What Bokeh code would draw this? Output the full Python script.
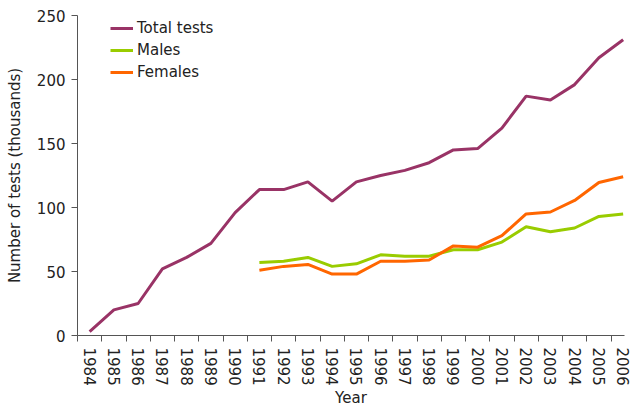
from bokeh.plotting import figure
from bokeh.models import Range1d, FixedTicker, Legend, LegendItem
from bokeh.embed import file_html
from bokeh.resources import INLINE

years_total = list(range(1984, 2007))
total_tests = [3, 20, 25, 52, 61, 72, 96, 114, 114, 120, 105, 120, 125, 129, 135,
               145, 146, 162, 187, 184, 196, 217, 231]
years_sex = list(range(1991, 2007))
males = [57, 58, 61, 54, 56, 63, 62, 62, 67, 67, 73, 85, 81, 84, 93, 95]
females = [51, 54, 55.5, 48, 48, 58, 58, 59, 70, 69, 78, 95, 96.5, 105.5, 119.5, 124]
y_ticks = [0, 50, 100, 150, 200, 250]

FONT = "DejaVu Sans"
TXT = "#222222"
AX = "#555555"

p = figure(frame_width=547, frame_height=320, output_backend="svg", toolbar_location=None,
           x_range=Range1d(1983.5, 2006.056), y_range=Range1d(0, 250),
           min_border_left=77, min_border_right=6, min_border_top=15,
           min_border_bottom=5)
p.outline_line_color = None
p.xgrid.grid_line_color = None
p.ygrid.grid_line_color = None
p.background_fill_color = "white"

r_total = p.line(years_total, total_tests, line_color="#993366", line_width=3)
r_m = p.line(years_sex, males, line_color="#99CC00", line_width=3)
r_f = p.line(years_sex, females, line_color="#FF6600", line_width=3)

bounds = [y - 0.5 for y in years_total] + [2006.5]
p.xaxis.ticker = FixedTicker(ticks=years_total, minor_ticks=bounds)
p.xaxis.major_tick_out = 0
p.xaxis.major_tick_in = 0
p.xaxis.minor_tick_out = 6
p.xaxis.minor_tick_in = 0
p.xaxis.major_label_orientation = "vertical"
p.xaxis.major_label_standoff = 6
p.xaxis.axis_label = "Year"
p.xaxis.axis_label_standoff = 0

p.yaxis.ticker = FixedTicker(ticks=y_ticks)
p.yaxis.major_tick_out = 6
p.yaxis.major_tick_in = 0
p.yaxis.major_label_standoff = 6
p.yaxis.axis_label = "Number of tests (thousands)"
p.yaxis.axis_label_standoff = 10

for ax in (p.xaxis, p.yaxis):
    ax.axis_line_color = AX
    ax.major_tick_line_color = AX
    ax.major_label_text_font = FONT
    ax.major_label_text_font_size = "15px"
    ax.major_label_text_color = TXT
    ax.axis_label_text_font = FONT
    ax.axis_label_text_font_size = "15px"
    ax.axis_label_text_font_style = "normal"
    ax.axis_label_text_color = TXT
p.xaxis.minor_tick_line_color = AX
p.yaxis.minor_tick_line_color = None

legend = Legend(items=[LegendItem(label="Total tests", renderers=[r_total]),
                       LegendItem(label="Males", renderers=[r_m]),
                       LegendItem(label="Females", renderers=[r_f])],
                location=(33, 253), margin=0, padding=0, spacing=2,
                glyph_width=23, glyph_height=20, label_height=20,
                label_standoff=4, border_line_color=None,
                background_fill_alpha=0,
                label_text_font=FONT, label_text_font_size="15px",
                label_text_color=TXT)
p.add_layout(legend)

open("out.html", "w").write(file_html(p, INLINE))
